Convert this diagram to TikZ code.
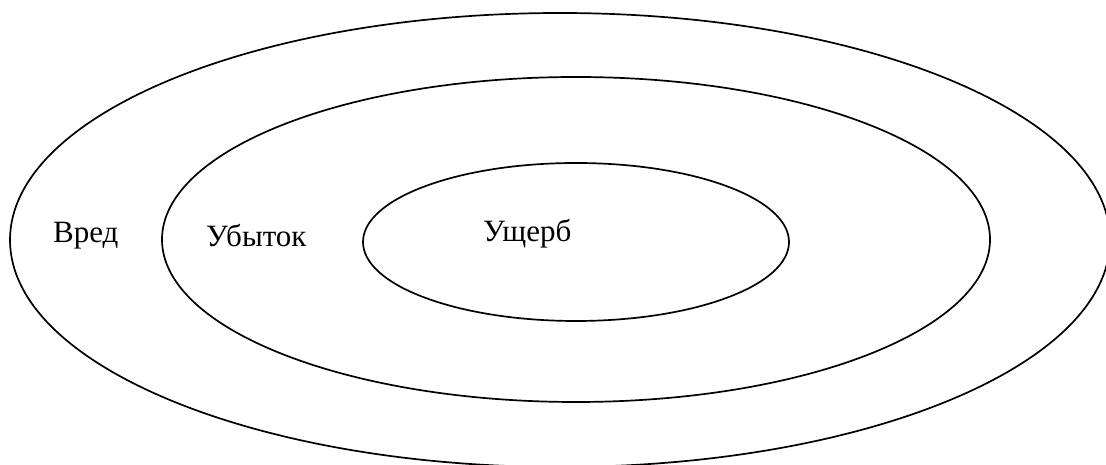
\documentclass[tikz,border=0pt]{standalone}
\usepackage{fontspec}
\setmainfont{Liberation Serif}
\begin{document}
\begin{tikzpicture}[x=1pt,y=1pt,
  ring/.style={draw=black,line width=1.7pt},
  lbl/.style={anchor=base west,inner sep=0pt,font=\fontsize{31}{37}\selectfont}]
\useasboundingbox (0,0) rectangle (1106,465);
\clip (0,0) rectangle (1106,465);
\fill[white] (0,0) rectangle (1106,465);
\draw[ring] (560,225) ellipse [x radius=550, y radius=227];
\draw[ring] (576,225.5) ellipse [x radius=414, y radius=162.5];
\draw[ring] (576,223) ellipse [x radius=213, y radius=79];
\node[lbl] (vred) at (53,222) {Вред};
\node[lbl] (ubytok) at (206,218) {Убыток};
\node[lbl] (ushcherb) at (483,223) {Ущерб};
\end{tikzpicture}
\end{document}
